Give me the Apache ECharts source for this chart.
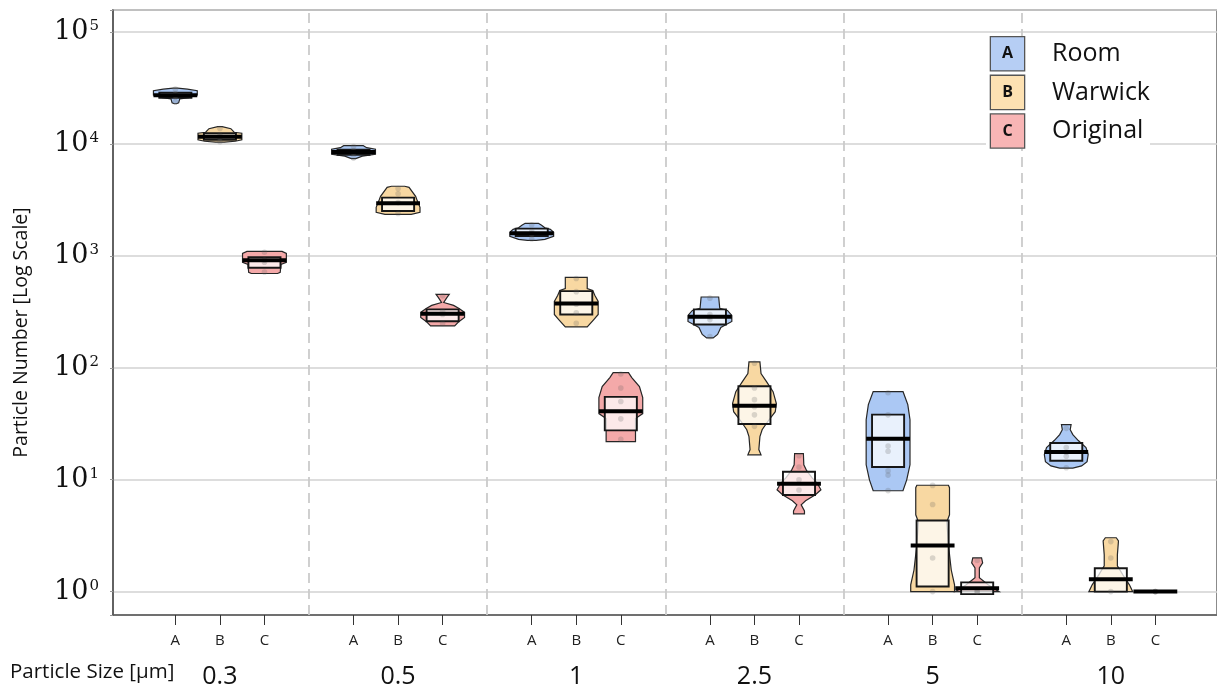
<!DOCTYPE html>
<html><head><meta charset="utf-8">
<script src="https://cdn.jsdelivr.net/npm/echarts@6/dist/echarts.min.js"></script>
<style>html,body{margin:0;padding:0;background:#fff}#c{width:1217px;height:689px}</style>
</head><body><div id="c"></div>
<script>
// ---------- data ----------
const sizes = ['0.3', '0.5', '1', '2.5', '5', '10'];
const groupLetters = ['A', 'B', 'C'];
const groupNames = ['Room', 'Warwick', 'Original'];

const roomQ1 = [26000, 8040, 1507, 244, 13.0, 14.8];
const roomMedian = [27400, 8510, 1593, 286, 23.3, 17.7];
const roomQ3 = [28840, 8910, 1757, 333, 38.2, 21.3];

const warwickQ1 = [10940, 2523, 300, 31.5, 1.11, 1.0];
const warwickMedian = [11650, 2958, 376, 45.9, 2.58, 1.29];
const warwickQ3 = [12500, 3326, 485, 68.5, 4.32, 1.62];

const originalQ1 = [785, 261, 27.6, 7.3, 0.95, 1];
const originalMedian = [914, 304, 40.9, 9.2, 1.07, 1];
const originalQ3 = [977, 333, 55.0, 11.8, 1.21, 1];

// violin outlines: [value, relative half-width], top to bottom
const roomViolin = [
  [[31600,0.1],[31000,0.55],[30050,1],[27400,1],[26000,0.6],[25400,0.2],[23400,0.15],[22950,0.05]],
  [[9680,0.45],[9290,0.6],[9000,1],[8130,1],[7800,0.4],[7410,0.1]],
  [[1960,0.3],[1880,0.45],[1786,0.6],[1731,0.85],[1628,1],[1500,1],[1409,0.6],[1380,0.2]],
  [[430,0.4],[340,0.45],[326,0.8],[294,1],[260,1],[230,0.5],[199,0.35],[185,0.15]],
  [[61.4,0.68],[46.9,0.9],[34.4,1],[13.6,1],[9.98,0.85],[7.97,0.68]],
  [[31.1,0.22],[28.0,0.18],[25.3,0.3],[22.4,0.55],[19.4,0.9],[16.8,1],[14.5,0.95],[13.3,0.7],[12.7,0.3]]
];
const warwickViolin = [
  [[14320,0.1],[13730,0.5],[12760,0.65],[12500,1],[10940,1],[10610,0.7],[10400,0.2]],
  [[4200,0.3],[4110,0.5],[3415,0.8],[3210,0.85],[2720,1],[2455,1],[2356,0.6]],
  [[643,0.5],[512,0.5],[492,0.75],[444,0.85],[392,1],[300,1],[270,0.8],[232,0.5]],
  [[113,0.25],[89,0.3],[75.4,0.55],[61.3,0.85],[47.9,1],[40.6,0.95],[33.0,0.6],[28.0,0.35],[24.3,0.25],[18.6,0.2],[16.7,0.3]],
  [[8.93,0.72],[8.48,0.77],[4.86,0.77],[4.21,0.65],[2.62,0.72],[1.56,0.85],[1.15,1],[1.0,1]],
  [[3.03,0.25],[2.84,0.35],[2.13,0.3],[1.70,0.3],[1.41,0.55],[1.15,0.85],[1.0,1]]
];
const originalViolin = [
  [[1099,0.8],[1055,1],[951,1],[876,1],[841,0.75],[713,0.72],[697,0.6]],
  [[453,0.3],[426,0.2],[384,0.05],[362,0.5],[340,0.75],[313,1],[282,1],[260,0.75],[237,0.55]],
  [[90.8,0.35],[81.9,0.5],[68.0,0.85],[54.2,1],[39.0,1],[35.2,0.67],[21.9,0.67]],
  [[17.1,0.2],[13.6,0.22],[12.05,0.35],[10.4,0.6],[9.2,0.85],[8.13,1],[7.34,0.75],[6.48,0.3],[5.97,0.1],[5.27,0.25],[4.96,0.25]],
  [[2.0,0.2],[1.81,0.25],[1.63,0.1],[1.33,0.1],[1.15,0.5],[1.0,1]],
  []
];

// individual observations (jitter dots)
const roomPoints = [
  [31000, 28000, 27600, 27200, 26500, 24000],
  [9500, 8700, 8500, 8300, 7500],
  [1900, 1650, 1590, 1550, 1420],
  [420, 300, 285, 270, 190],
  [60, 38, 20, 18, 12, 11, 8],
  [28.8, 19.4, 17.5, 16.2, 12.8]
];
const warwickPoints = [
  [13800, 12000, 11600, 11200, 10500],
  [4000, 3600, 3000, 2400],
  [630, 480, 370, 310, 250],
  [110, 66, 52, 45, 38, 30],
  [8.9, 6.0, 2.0, 1.0],
  [2.8, 2.0, 1.0]
];
const originalPoints = [
  [1080, 920, 880, 720],
  [440, 320, 300, 250],
  [88, 66, 50, 35, 23],
  [16.4, 13, 10, 8.1],
  [1.9, 1.0, 1.0],
  [1, 1, 1]
];

// ---------- styling ----------
const fillColors = ['#abc8f4', '#f8d8a2', '#f4a9a9'];
const legendColors = ['#b6cef4', '#fde1b2', '#f8b5b5'];
const GROUP_OFFSET = 0.25;
const VIOLIN_HALF = 0.123;
const BOX_HALF = 0.09;
const SANS = '"Open Sans", "Noto Sans", sans-serif';

const tickPositions = [];
sizes.forEach((s, i) => groupLetters.forEach((g, j) => tickPositions.push(i + (j - 1) * GROUP_OFFSET)));
const groupCenters = sizes.map((s, i) => i);
const separators = sizes.slice(1).map((s, i) => i + 0.5);

function makeSeries(gi, q1, med, q3, violins, points) {
  const color = fillColors[gi];
  return {
    type: 'custom',
    name: groupNames[gi],
    xAxisIndex: 0,
    yAxisIndex: 0,
    itemStyle: { color: color },
    encode: { x: 0, y: [1, 2, 3] },
    data: sizes.map((s, i) => [i + (gi - 1) * GROUP_OFFSET, med[i], q1[i], q3[i]]),
    renderItem: function (params, api) {
      const i = params.dataIndex;
      const xv = api.value(0);
      const pm = api.coord([xv, api.value(1)]);
      const cx = pm[0];
      const unit = api.coord([xv + 1, api.value(1)])[0] - cx;
      const vw = unit * VIOLIN_HALF, bw = unit * BOX_HALF;
      const yOf = v => api.coord([xv, v])[1];
      const children = [];
      const prof = violins[i];
      if (prof.length) {
        const right = prof.map(p => [cx + p[1] * vw, yOf(p[0])]);
        const left = prof.slice().reverse().map(p => [cx - p[1] * vw, yOf(p[0])]);
        children.push({ type: 'polygon', shape: { points: right.concat(left) },
          style: { fill: color, stroke: '#262626', lineWidth: 1.2 } });
      }
      const yq3 = yOf(api.value(3)), yq1 = yOf(api.value(2)), ym = pm[1];
      if (yq1 - yq3 > 0.5) {
        children.push({ type: 'rect', shape: { x: cx - bw, y: yq3, width: 2 * bw, height: yq1 - yq3 },
          style: { fill: 'rgba(255,255,255,0.74)', stroke: '#161616', lineWidth: 1.9 } });
      }
      points[i].forEach(v => children.push({ type: 'circle', shape: { cx: cx, cy: yOf(v), r: 2.8 },
        style: { fill: 'rgba(90,90,90,0.22)' } }));
      children.push({ type: 'line', shape: { x1: cx - vw, y1: ym, x2: cx + vw, y2: ym },
        style: { stroke: '#000', lineWidth: 4 } });
      return { type: 'group', children: children };
    }
  };
}

const series = [
  makeSeries(0, roomQ1, roomMedian, roomQ3, roomViolin, roomPoints),
  makeSeries(1, warwickQ1, warwickMedian, warwickQ3, warwickViolin, warwickPoints),
  makeSeries(2, originalQ1, originalMedian, originalQ3, originalViolin, originalPoints)
];
series[0].markLine = {
  silent: true, symbol: 'none', label: { show: false }, z: 1,
  lineStyle: { color: '#cbcbcb', type: [10, 6], width: 1.8 },
  data: separators.map(v => ({ xAxis: v }))
};

const legendRich = { t: { fontSize: 25, fontFamily: SANS, color: '#111', padding: [0, 0, 0, 28] } };
groupLetters.forEach((g, j) => {
  legendRich['b' + j] = { width: 33, height: 33, align: 'center', backgroundColor: legendColors[j],
    borderColor: '#555', borderWidth: 1.3, fontSize: 16, fontWeight: 'bold', fontFamily: SANS, color: '#111' };
});

const chart = echarts.init(document.getElementById('c'));
chart.setOption({
  animation: false,
  backgroundColor: '#fff',
  title: {
    text: 'Particle Size [µm]', left: 10, top: 662, padding: 0,
    textStyle: { fontSize: 20.5, fontWeight: 'normal', fontFamily: SANS, color: '#111' }
  },
  legend: {
    orient: 'vertical', left: 986, top: 36, padding: 0, itemGap: 3,
    icon: 'none', itemWidth: 0, itemHeight: 0, selectedMode: false,
    backgroundColor: '#fff',
    data: groupNames,
    formatter: name => '{b' + groupNames.indexOf(name) + '|' + groupLetters[groupNames.indexOf(name)] + '}{t|' + name + '}',
    textStyle: { rich: legendRich }
  },
  grid: { left: 113, right: -3, top: 10, bottom: 74, show: true, borderColor: '#666', borderWidth: 1.5 },
  xAxis: [{
    type: 'value', min: -0.6, max: 5.596, position: 'bottom',
    axisLine: { show: true, onZero: false, lineStyle: { color: '#555', width: 1.5 } },
    axisTick: { show: true, customValues: tickPositions, length: 10, lineStyle: { color: '#333' } },
    axisLabel: {
      customValues: tickPositions, margin: 18, fontSize: 15, fontFamily: SANS, color: '#222',
      formatter: v => groupLetters[Math.round((v - Math.round(v)) / GROUP_OFFSET) + 1]
    },
    splitLine: { show: false }
  }, {
    type: 'value', min: -0.6, max: 5.596, position: 'bottom',
    axisLine: { show: false, onZero: false }, axisTick: { show: false }, splitLine: { show: false },
    axisLabel: {
      customValues: groupCenters, margin: 49, fontSize: 25, fontFamily: SANS, color: '#111',
      formatter: v => sizes[Math.round(v)]
    }
  }],
  yAxis: {
    type: 'log', logBase: 10, min: 0.618, max: 158000,
    name: 'Particle Number [Log Scale]', nameLocation: 'middle', nameGap: 82,
    nameTextStyle: { fontSize: 19.5, fontFamily: SANS, color: '#111', padding: [0, 40, 0, 0] },
    axisLine: { show: true, onZero: false, lineStyle: { color: '#555', width: 1.5 } },
    axisTick: { show: true, length: 3, lineStyle: { color: '#999' } },
    axisLabel: {
      margin: 14,
      formatter: function (v) {
        const l = Math.log10(v), n = Math.round(l);
        if (Math.abs(l - n) > 0.01) return '';
        return '{b|10}{s|' + n + '}';
      },
      rich: {
        b: { fontSize: 27, fontFamily: '"DejaVu Serif", serif', color: '#111' },
        s: { fontSize: 15, fontFamily: '"DejaVu Serif", serif', color: '#111', verticalAlign: 'top', padding: [0, 0, 0, 1] }
      }
    },
    splitLine: { show: true, lineStyle: { color: '#d2d2d2', width: 1.5 } }
  },
  series: series
});
</script></body></html>
